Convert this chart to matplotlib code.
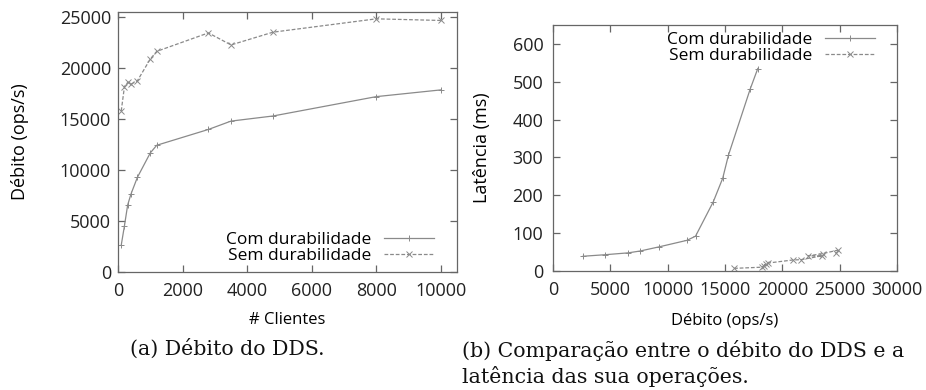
import matplotlib
matplotlib.use("Agg")
import matplotlib.pyplot as plt

# numero de clientes e debito medido (ops/s)
clientes = [100, 200, 300, 400, 600, 1000, 1200, 2800, 3500, 4800, 8000, 10000]
debito_com = [2630, 4540, 6580, 7630, 9280, 11680, 12430, 13980, 14800, 15300, 17200, 17860]
debito_sem = [15790, 18190, 18590, 18420, 18750, 20890, 21640, 23450, 22270, 23520, 24830, 24670]

# latencia (ms) para cada ponto
latencia_com = [39, 43, 48, 53, 64, 81, 92, 183, 245, 306, 481, 535]
latencia_sem = [7, 10, 18, 14, 21, 29, 30, 40, 40, 46, 55, 47]

label_com = "Com durabilidade"
label_sem = "Sem durabilidade"

plt.rcParams['font.family'] = ['Open Sans', 'DejaVu Sans']
plt.rcParams['font.size'] = 13

W, H = 926, 390
fig = plt.figure(figsize=(W / 100, H / 100), dpi=100)

def px_axes(x0, y0, x1, y1):
    return fig.add_axes([x0 / W, 1 - y1 / H, (x1 - x0) / W, (y1 - y0) / H])

line_col = '#8a8a8a'
frame_col = '#666666'

def style(ax, ypad):
    for s in ax.spines.values():
        s.set_color(frame_col)
        s.set_linewidth(0.9)
    ax.tick_params(direction='in', length=5, width=0.9, color=frame_col,
                   top=True, right=True, labelsize=13, labelcolor='#222222')
    ax.tick_params(axis='x', pad=7)
    ax.tick_params(axis='y', pad=ypad)

def legend(ax, x_right, y_center):
    leg = ax.legend(loc='center right', bbox_to_anchor=(x_right / W, 1 - y_center / H),
                    bbox_transform=fig.transFigure, frameon=False, markerfirst=False,
                    fontsize=12.5, handlelength=2.9, handletextpad=0.7, labelspacing=0.0,
                    borderpad=0, borderaxespad=0, numpoints=1)
    return leg

# (a) debito vs clientes
ax1 = px_axes(118, 12, 457, 272)
ax1.plot(clientes, debito_com, color=line_col, lw=0.9, marker='+', ms=5, mew=0.7, label=label_com)
ax1.plot(clientes, debito_sem, color=line_col, lw=0.9, ls=(0, (3, 1.5)), marker='x', ms=4, mew=0.7, label=label_sem)
ax1.set_xlim(0, 10500)
ax1.set_ylim(0, 25500)
ax1.set_xticks(range(0, 10001, 2000))
ax1.set_yticks(range(0, 25001, 5000))
style(ax1, 5)
ax1.set_xlabel("# Clientes", fontsize=12)
ax1.set_ylabel("Débito (ops/s)", fontsize=13)
ax1.xaxis.set_label_coords(0.5, -0.155)
ax1.yaxis.set_label_coords(-0.262, 0.5)
legend(ax1, 434, 248)

# (b) latencia vs debito
ax2 = px_axes(553, 25, 897, 271)
ax2.plot(debito_com, latencia_com, color=line_col, lw=0.9, marker='+', ms=5, mew=0.7, label=label_com)
ax2.plot(debito_sem, latencia_sem, color=line_col, lw=0.9, ls=(0, (3, 1.5)), marker='x', ms=4, mew=0.7, label=label_sem)
ax2.set_xlim(0, 30000)
ax2.set_ylim(0, 650)
ax2.set_xticks(range(0, 30001, 5000))
ax2.set_yticks(range(0, 601, 100))
style(ax2, 7)
ax2.set_xlabel("Débito (ops/s)", fontsize=12)
ax2.set_ylabel("Latência (ms)", fontsize=13)
ax2.xaxis.set_label_coords(0.5, -0.17)
ax2.yaxis.set_label_coords(-0.18, 0.5)
legend(ax2, 875, 48)

cap_font = 'DejaVu Serif'
fig.text(130 / W, 1 - 349 / H, "(a) Débito do DDS.", family=cap_font, fontsize=14.8,
         ha='left', va='center', color='#111111')
fig.text(462 / W, 1 - 340 / H, "(b) Comparação entre o débito do DDS e a\nlatência das sua operações.",
         family=cap_font, fontsize=14.8, ha='left', va='top', linespacing=1.32, color='#111111')

fig.savefig("out.png", dpi=100)
